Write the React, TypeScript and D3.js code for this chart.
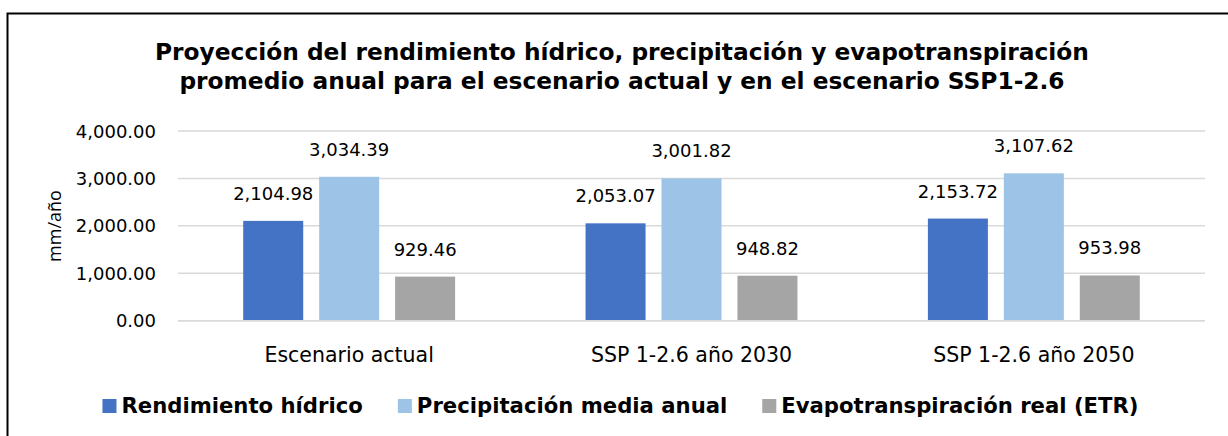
import React, { useEffect, useRef } from "react";
import * as d3 from "d3";

const categories = ["Escenario actual", "SSP 1-2.6 año 2030", "SSP 1-2.6 año 2050"];
const seriesNames = ["Rendimiento hídrico", "Precipitación media anual", "Evapotranspiración real (ETR)"];
const rendimiento = [2104.98, 2053.07, 2153.72];
const precipitacion = [3034.39, 3001.82, 3107.62];
const evapotranspiracion = [929.46, 948.82, 953.98];
const yTicks = [0, 1000, 2000, 3000, 4000];
const colors = ["#4472C4", "#9DC3E6", "#A5A5A5"];
const titleLines = [
  "Proyección del rendimiento hídrico, precipitación y evapotranspiración",
  "promedio anual para el escenario actual y en el escenario SSP1-2.6",
];

const W = 1228;
const H = 436;
const FONT = "'DejaVu Sans', Verdana, sans-serif";

export default function App() {
  const ref = useRef<SVGSVGElement | null>(null);

  useEffect(() => {
    const svg = d3.select(ref.current);
    svg.selectAll("*").remove();

    const seriesValues = [rendimiento, precipitacion, evapotranspiracion];
    const fmt = d3.format(",.2f");

    svg.append("rect").attr("x", 0).attr("y", 0).attr("width", W).attr("height", H).attr("fill", "#fff");
    // border
    svg.append("rect")
      .attr("x", 7.5).attr("y", 13.5).attr("width", W + 20).attr("height", H + 20)
      .attr("fill", "none").attr("stroke", "#000").attr("stroke-width", 2);

    // title
    const title = svg.append("text")
      .attr("text-anchor", "middle")
      .attr("font-family", FONT)
      .attr("font-weight", "bold")
      .attr("font-size", 23.3)
      .attr("fill", "#000");
    titleLines.forEach((l, i) => {
      title.append("tspan").attr("x", 622).attr("y", 60 + i * 29).text(l);
    });

    const x0 = d3.scaleBand<string>().domain(categories).range([178, 1205]).paddingInner(0.381).paddingOuter(0.1905);
    const x1 = d3.scaleBand<string>().domain(seriesNames).range([0, x0.bandwidth()]).paddingInner(0.21).paddingOuter(0);
    const y = d3.scaleLinear().domain([0, 4000]).range([320.7, 131]);

    // gridlines
    svg.append("g").selectAll("line").data(yTicks).join("line")
      .attr("x1", 178).attr("x2", 1205)
      .attr("y1", (d) => y(d)).attr("y2", (d) => y(d))
      .attr("stroke", "#D9D9D9").attr("stroke-width", 1.5);

    // y tick labels
    svg.append("g").selectAll("text").data(yTicks).join("text")
      .attr("x", 156).attr("y", (d) => y(d) + 6.5)
      .attr("text-anchor", "end")
      .attr("font-family", FONT).attr("font-size", 18).attr("fill", "#000")
      .text((d) => fmt(d));

    // axis title
    svg.append("text")
      .attr("transform", `translate(61,226) rotate(-90)`)
      .attr("text-anchor", "middle")
      .attr("font-family", "'Open Sans', 'Liberation Sans', sans-serif")
      .attr("font-size", 18).attr("fill", "#000")
      .text("mm/año");

    // bars
    seriesNames.forEach((s, si) => {
      const g = svg.append("g");
      g.selectAll("rect").data(seriesValues[si]).join("rect")
        .attr("x", (_d, i) => (x0(categories[i]) as number) + (x1(s) as number))
        .attr("width", x1.bandwidth())
        .attr("y", (d) => y(d))
        .attr("height", (d) => y(0) - y(d))
        .attr("fill", colors[si]);
      g.selectAll("text").data(seriesValues[si]).join("text")
        .attr("x", (_d, i) => (x0(categories[i]) as number) + (x1(s) as number) + x1.bandwidth() / 2)
        .attr("y", (d) => y(d) - 21)
        .attr("text-anchor", "middle")
        .attr("font-family", FONT).attr("font-size", 18).attr("fill", "#000")
        .text((d) => fmt(d));
    });

    // baseline axis
    svg.append("line").attr("x1", 178).attr("x2", 1205).attr("y1", y(0)).attr("y2", y(0))
      .attr("stroke", "#D9D9D9").attr("stroke-width", 1.5);

    // category labels
    svg.append("g").selectAll("text").data(categories).join("text")
      .attr("x", (d) => (x0(d) as number) + x0.bandwidth() / 2)
      .attr("y", 362)
      .attr("text-anchor", "middle")
      .attr("font-family", FONT).attr("font-size", 20.5).attr("fill", "#000")
      .text((d) => d);

    // legend
    const legend = svg.append("g");
    const items = seriesNames.map((s, i) => {
      const g = legend.append("g");
      g.append("rect").attr("x", 0).attr("y", -14).attr("width", 14).attr("height", 14).attr("fill", colors[i]);
      const t = g.append("text").attr("x", 19).attr("y", 0)
        .attr("font-family", FONT).attr("font-weight", "bold").attr("font-size", 21.2).attr("fill", "#000")
        .text(s);
      const w = 19 + (t.node() as SVGTextElement).getComputedTextLength();
      return { g, w };
    });
    const gap = 35;
    const total = d3.sum(items, (d) => d.w) + gap * (items.length - 1);
    let cx = 620.5 - total / 2;
    items.forEach((it) => {
      it.g.attr("transform", `translate(${cx},413)`);
      cx += it.w + gap;
    });
  }, []);

  return (
    <svg ref={ref} width={W} height={H} style={{ position: "absolute", left: 0, top: 0 }} />
  );
}
